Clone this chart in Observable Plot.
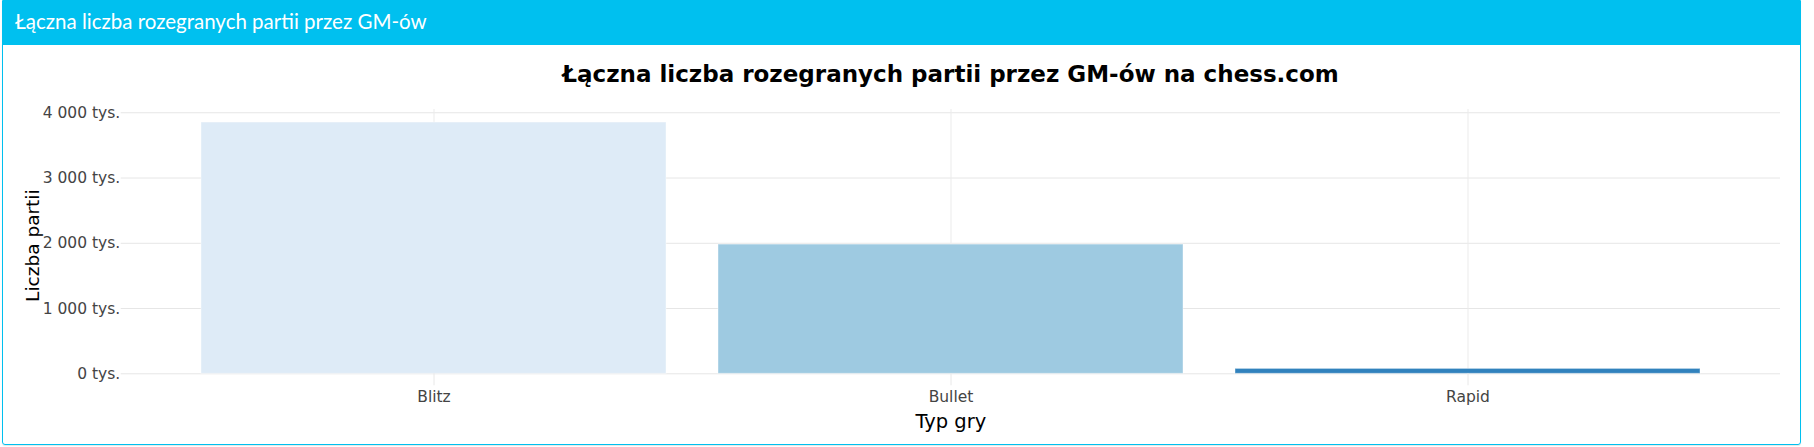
<!DOCTYPE html>
<html><head><meta charset="utf-8">
<script src="https://cdn.jsdelivr.net/npm/d3@7"></script>
<script src="https://cdn.jsdelivr.net/npm/@observablehq/plot@0.6"></script>
<style>
html,body{margin:0;padding:0;background:#fff}
body{width:1814px;height:447px;overflow:hidden;position:relative;font-family:"DejaVu Sans",sans-serif}
#panel{position:absolute;left:2px;top:0;width:1799px;height:445px;box-sizing:border-box;border:1px solid #00c0ef;border-radius:0 0 3px 3px;box-shadow:0 1px 1px rgba(0,0,0,.1)}
#header{position:absolute;left:-1px;top:0;width:1799px;height:44px;background:#00c0ef;color:#fff;font-family:Lato,"Open Sans",sans-serif;font-size:20.5px;line-height:40px;padding-left:13px;box-sizing:border-box;white-space:nowrap}
#title{position:absolute;left:121px;width:1659px;top:62px;text-align:center;font-family:"DejaVu Sans",sans-serif;font-weight:bold;font-size:23px;line-height:24px;color:#000;white-space:nowrap}
#chart{position:absolute;left:3px;top:95px}
</style></head>
<body>
<div id="panel"><div id="header">Łączna liczba rozegranych partii przez GM-ów</div></div>
<div id="title">Łączna liczba rozegranych partii przez GM-ów na chess.com</div>
<div id="chart"></div>
<script>
const categories = ["Blitz", "Bullet", "Rapid"];
const games = [3850000, 1980000, 75000];
const barColors = ["#deebf7", "#9ecae1", "#3182bd"];
const yTicks = [0, 1000000, 2000000, 3000000, 4000000];
const xTitle = "Typ gry";
const yTitle = "Liczba partii";

const data = categories.map((c, i) => ({type: c, games: games[i]}));
const fmt = d3.formatLocale({thousands: " ", grouping: [3], decimal: ",", currency: ["", ""]}).format(",");

const chart = Plot.plot({
  width: 1796,
  height: 348,
  marginLeft: 117.7,
  marginRight: 19,
  marginTop: 14,
  marginBottom: 69.7,
  style: {fontFamily: "DejaVu Sans, sans-serif", fontSize: "15.5px", color: "#444", background: "transparent", overflow: "visible"},
  x: {domain: categories, paddingInner: 0.1, paddingOuter: 0.153, label: null},
  y: {domain: [0, 4050000], label: null},
  color: {domain: categories, range: barColors},
  marks: [
    Plot.gridY(yTicks, {stroke: "#e6e6e6", strokeOpacity: 1}),
    Plot.gridX({stroke: "#ebebeb", strokeOpacity: 1}),
    Plot.barY(data, {x: "type", y: "games", fill: "type", stroke: "#fff", strokeOpacity: 0.4, strokeWidth: 1}),
    Plot.axisY(yTicks, {tickSize: 0, tickPadding: 1, tickFormat: d => fmt(d / 1000) + " tys.", label: null, fill: "#444"}),
    Plot.axisX({tickSize: 12, tickPadding: 5, stroke: "#e8e8e8", strokeOpacity: 1, fill: "#444", label: null}),
    Plot.text([xTitle], {frameAnchor: "bottom", lineAnchor: "middle", textAnchor: "middle", dy: 48, fontSize: 19.5, fill: "#000"}),
    Plot.text([yTitle], {frameAnchor: "left", lineAnchor: "middle", textAnchor: "middle", rotate: -90, dx: -88, dy: 4, fontSize: 18.5, fill: "#000"})
  ]
});
document.getElementById("chart").appendChild(chart);
</script>
</body></html>
